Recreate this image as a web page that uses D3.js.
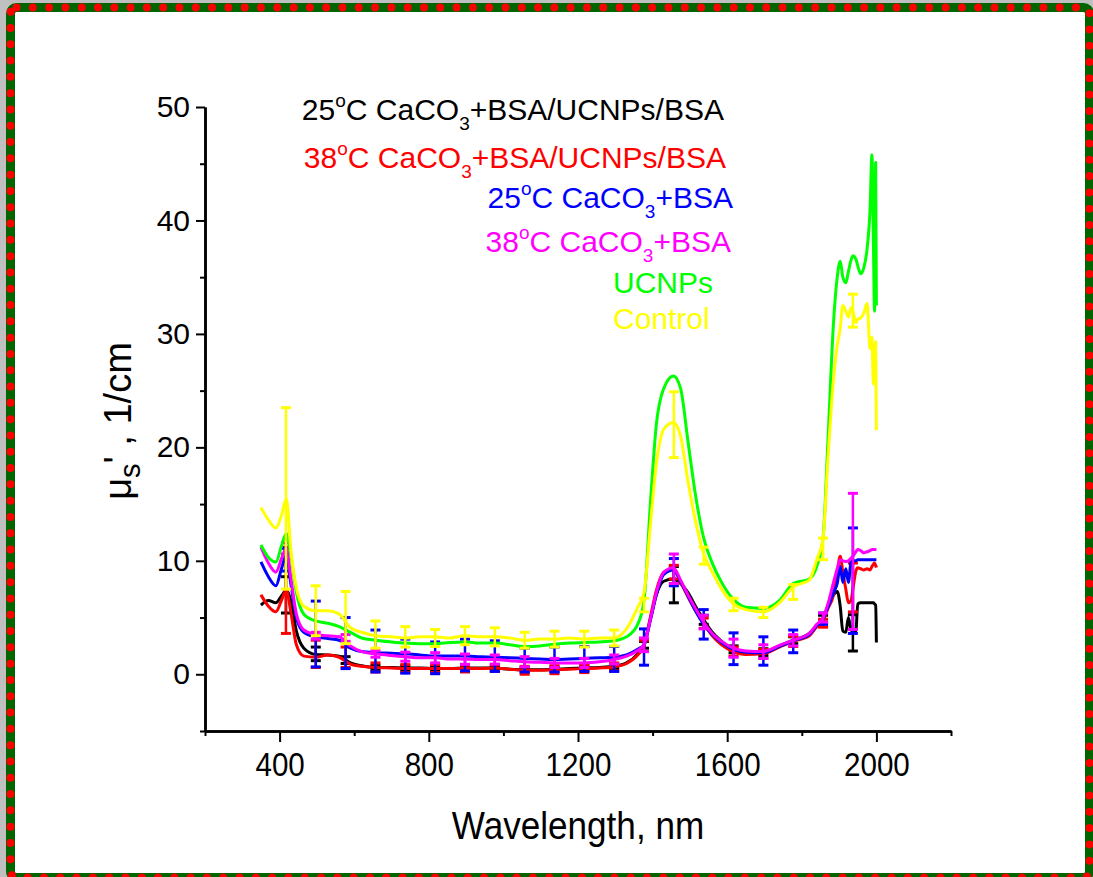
<!DOCTYPE html>
<html>
<head>
<meta charset="utf-8">
<script src="https://cdn.jsdelivr.net/npm/d3@7"></script>
<style>
  body { margin: 0; background: #c0c0c0; }
  svg { display: block; font-family: "Liberation Sans", Arial, sans-serif; }
</style>
</head>
<body>
<svg id="graphe"></svg>
<script>
//------ Données ------
// longueurs d'onde (nm) communes à toutes les courbes
var wl = [350, 370, 390, 405, 418, 430, 445, 465, 497, 530, 560, 590, 620, 657, 700, 737, 777, 817, 857, 897,
  937, 977, 1017, 1057, 1097, 1137, 1177, 1217, 1257, 1297, 1330, 1360, 1377, 1395, 1410, 1430, 1456, 1475, 1495, 1515,
  1537, 1560, 1585, 1617, 1650, 1697, 1740, 1777, 1820, 1840, 1857, 1870, 1885, 1895, 1903, 1910, 1918, 1925, 1932, 1937,
  1945, 1950, 1958, 1966, 1975, 1983, 1988, 1992, 1995, 1998, 2000];

// mu_s' (1/cm) pour chaque échantillon
var black25 = [6.1, 6.5, 6.3, 6.9, 7.4, 6.5, 3.8, 2.3, 1.75, 1.7, 1.6, 1.0, 0.75, 0.6, 0.6, 0.55, 0.55, 0.5, 0.5, 0.55,
  0.55, 0.55, 0.45, 0.4, 0.4, 0.45, 0.5, 0.55, 0.6, 0.7, 1.0, 1.8, 2.6, 5.0, 7.0, 8.2, 8.4, 8.0, 7.2, 6.0,
  4.8, 3.7, 2.9, 2.2, 1.95, 1.95, 2.5, 3.0, 3.6, 4.3, 4.9, 6.0, 7.0, 7.3, 6.0, 3.8, 3.7, 5.0, 3.9, 3.8,
  3.8, 6.2, 6.3, 6.3, 6.3, 6.3, 6.3, 6.3, 6.2, 6.1, 2.8];
var red38 = [7.0, 6.0, 5.5, 6.5, 7.4, 5.5, 2.6, 1.6, 1.5, 1.7, 1.5, 0.9, 0.7, 0.6, 0.55, 0.5, 0.5, 0.5, 0.5, 0.5,
  0.5, 0.55, 0.45, 0.35, 0.35, 0.4, 0.45, 0.5, 0.55, 0.65, 0.95, 1.7, 2.5, 5.2, 7.4, 9.0, 9.3, 8.1, 6.8, 5.6,
  4.5, 3.4, 2.6, 2.0, 1.75, 1.8, 2.4, 2.9, 3.4, 4.2, 4.7, 5.8, 7.0, 9.0, 10.4, 9.0, 7.5, 6.3, 6.5, 7.5,
  9.1, 9.4, 9.3, 9.2, 9.3, 9.2, 9.5, 9.7, 9.8, 9.6, 9.4];
var blue25 = [9.9, 8.6, 7.8, 9.3, 10.5, 8.0, 5.0, 3.7, 3.3, 3.15, 3.0, 2.3, 2.0, 1.9, 1.85, 1.8, 1.7, 1.6, 1.6, 1.6,
  1.55, 1.5, 1.45, 1.4, 1.35, 1.3, 1.35, 1.4, 1.45, 1.5, 1.7, 2.2, 2.6, 4.9, 7.0, 8.8, 9.2, 8.2, 6.9, 5.6,
  4.4, 3.5, 2.8, 2.2, 1.95, 1.9, 2.45, 2.95, 3.5, 4.3, 4.9, 5.9, 7.2, 8.0, 9.5, 8.1, 9.3, 8.1, 9.9, 10.0,
  10.0, 10.1, 10.1, 10.1, 10.1, 10.1, 10.1, 10.1, 10.1, 10.1, 10.1];
var magenta38 = [11.2, 9.8, 9.0, 10.2, 11.1, 8.5, 5.3, 3.9, 3.5, 3.4, 3.3, 2.5, 2.0, 1.8, 1.65, 1.55, 1.45, 1.45, 1.35, 1.33,
  1.3, 1.3, 1.2, 1.1, 1.05, 1.0, 1.0, 1.0, 1.1, 1.3, 1.6, 2.1, 2.6, 5.0, 7.2, 9.0, 9.4, 8.3, 7.0, 5.8,
  4.6, 3.6, 2.9, 2.3, 2.05, 2.0, 2.55, 3.0, 3.6, 4.4, 5.0, 6.2, 8.1, 9.3, 10.1, 10.0, 9.95, 10.0, 10.25, 10.4,
  10.8, 11.0, 10.9, 10.7, 10.8, 10.9, 11.0, 11.0, 11.0, 11.0, 11.0];
var greenUcnp = [11.4, 10.3, 9.9, 11.3, 12.4, 10.5, 7.2, 5.3, 4.7, 4.5, 4.2, 3.7, 3.2, 3.0, 2.85, 2.75, 2.7, 2.7, 2.8, 2.85,
  2.75, 2.75, 2.6, 2.45, 2.5, 2.65, 2.75, 2.8, 2.85, 2.95, 3.3, 4.4, 6.5, 15.5, 22.0, 25.2, 26.3, 25.2, 20.5, 15.8,
  12.0, 9.8, 8.1, 6.6, 5.9, 5.8, 6.5, 8.0, 8.4, 9.5, 12.0, 20.5, 31.0, 35.0, 36.4, 35.0, 34.5, 35.5, 36.5, 36.9,
  36.6, 36.0, 35.3, 35.8, 37.5, 41.0, 45.8, 38.0, 32.0, 45.1, 32.5];
var yellowCtrl = [14.7, 13.6, 12.9, 14.0, 15.5, 11.0, 7.6, 6.0, 5.6, 5.6, 5.3, 4.1, 3.7, 3.4, 3.3, 3.2, 3.3, 3.3, 3.2, 3.4,
  3.3, 3.3, 3.2, 3.0, 3.1, 3.1, 3.2, 3.1, 3.2, 3.2, 4.0, 5.9, 7.2, 13.5, 18.5, 21.6, 22.2, 21.0, 17.0, 13.5,
  10.6, 9.0, 7.5, 6.2, 5.7, 5.5, 6.3, 7.7, 8.3, 10.1, 12.0, 19.0, 26.0, 29.0, 30.5, 32.5, 32.0, 31.5, 32.3, 32.0,
  31.0, 31.3, 31.4, 31.8, 32.7, 28.7, 29.7, 25.6, 28.0, 29.3, 21.5];

// barres d'erreur : positions, centres et demi-largeurs
var errWl = [417, 497, 577, 657, 737, 817, 897, 977, 1057, 1137, 1217, 1297, 1377, 1457, 1537, 1617, 1697, 1777, 1857, 1937];
var blackErrC = [7.0, 1.8, 1.25, 0.6, 0.55, 0.5, 0.55, 0.55, 0.4, 0.45, 0.55, 0.7, 2.6, 7.9, 4.8, 2.2, 1.95, 3.0, 4.9, 3.65];
var blackErr = [1.6, 0.6, 0.3, 0.2, 0.2, 0.2, 0.2, 0.2, 0.2, 0.2, 0.2, 0.2, 0.3, 1.6, 0.4, 0.3, 0.3, 0.3, 0.3, 1.6];
var redErrC = [7.4, 1.8, 1.5, 0.6, 0.5, 0.5, 0.5, 0.55, 0.35, 0.4, 0.5, 0.65, 2.5, 9.0, 4.5, 2.0, 1.8, 2.9, 4.5, 7.65];
var redErr = [3.8, 1.2, 0.9, 0.4, 0.35, 0.35, 0.3, 0.3, 0.35, 0.35, 0.35, 0.35, 0.5, 0.6, 0.45, 0.4, 0.4, 0.45, 0.35, 2.15];
var blueErrC = [10.1, 3.55, 2.75, 2.05, 1.6, 1.45, 1.7, 1.6, 1.25, 1.3, 1.35, 1.35, 2.4, 9.0, 4.4, 2.25, 2.05, 2.9, 4.9, 8.25];
var blueErr = [1.0, 2.9, 2.25, 1.85, 1.5, 1.4, 1.4, 1.35, 1.05, 1.1, 1.1, 1.1, 1.6, 1.2, 1.3, 1.4, 1.25, 1.0, 0.5, 4.65];
var magentaErrC = [11.1, 3.4, 3.2, 1.8, 1.55, 1.45, 1.33, 1.3, 1.1, 1.0, 1.0, 1.3, 2.6, 9.3, 4.6, 2.3, 2.0, 3.0, 5.0, 9.95];
var magentaErr = [0.5, 0.3, 0.3, 0.3, 0.4, 0.45, 0.45, 0.4, 0.45, 0.4, 0.4, 0.4, 0.6, 1.3, 0.6, 0.8, 0.6, 0.5, 0.4, 6.0];
var yellowErrC = [15.5, 5.6, 5.0, 3.5, 3.3, 3.2, 3.4, 3.3, 3.0, 3.1, 3.1, 3.2, 6.1, 22.0, 10.45, 6.15, 5.45, 7.25, 11.05, 32.05];
var yellowErr = [8.0, 2.2, 2.3, 1.2, 0.9, 0.75, 0.8, 0.8, 0.7, 0.7, 0.7, 0.7, 0.6, 2.9, 0.75, 0.55, 0.45, 0.65, 0.95, 1.45];

// ticks
var xMajor = [400, 800, 1200, 1600, 2000];
var xMinor = [200, 600, 1000, 1400, 1800, 2200];
var yMajor = [0, 10, 20, 30, 40, 50];
var yMinor = [-5, 5, 15, 25, 35, 45];

// légende (texte, exposant, suite, indice, fin)
var legendLabels = [
  ["25", "o", "C CaCO", "3", "+BSA/UCNPs/BSA"],
  ["38", "o", "C CaCO", "3", "+BSA/UCNPs/BSA"],
  ["25", "o", "C CaCO", "3", "+BSA"],
  ["38", "o", "C CaCO", "3", "+BSA"],
  ["UCNPs"],
  ["Control"]
];

var series = [
  { color: "#000000", values: black25, errC: blackErrC, err: blackErr },
  { color: "#ff0000", values: red38, errC: redErrC, err: redErr },
  { color: "#0000ff", values: blue25, errC: blueErrC, err: blueErr },
  { color: "#ff00ff", values: magenta38, errC: magentaErrC, err: magentaErr },
  { color: "#00ff00", values: greenUcnp, errC: null, err: null },
  { color: "#ffff00", values: yellowCtrl, errC: yellowErrC, err: yellowErr }
];

//------ Rendre le graphe ------
var width = 1093,
    height = 877;

var svg = d3.select("#graphe")
    .attr("width", width)
    .attr("height", height);

// cadre vert à pois rouges
svg.append("rect")
    .attr("x", 10.5).attr("y", 7.5)
    .attr("width", 1079).attr("height", 870)
    .attr("rx", 6)
    .attr("fill", "#fff")
    .attr("stroke", "#006400")
    .attr("stroke-width", 9);
svg.append("rect")
    .attr("x", 10.5).attr("y", 7.5)
    .attr("width", 1079).attr("height", 870)
    .attr("rx", 6)
    .attr("fill", "none")
    .attr("stroke", "#ff0000")
    .attr("stroke-width", 8)
    .attr("stroke-linecap", "round")
    .attr("stroke-dasharray", "0 16.3");

// échelles
var x = d3.scaleLinear().domain([200, 2200]).range([205, 951]);
var y = d3.scaleLinear().domain([-5, 50]).range([731, 107]);

//-- axes --
var gx = svg.append("g").attr("transform", "translate(0,731)");
gx.call(d3.axisBottom(x).tickValues(xMajor).tickSize(11).tickSizeOuter(0).tickPadding(10).tickFormat(d3.format("d")));
gx.append("g").call(d3.axisBottom(x).tickValues(xMinor).tickSize(5).tickSizeOuter(0).tickFormat(""));
gx.selectAll(".domain").attr("stroke-width", 2.5);
gx.selectAll(".tick line").attr("stroke-width", 2);
// chiffres étroits comme dans l'original
gx.selectAll(".tick text")
    .attr("font-size", 34)
    .attr("transform", "scale(0.87,1)")
    .attr("fill", "#000");

var gy = svg.append("g").attr("transform", "translate(205,0)");
gy.call(d3.axisLeft(y).tickValues(yMajor).tickSize(9).tickSizeOuter(0).tickPadding(6));
gy.append("g").call(d3.axisLeft(y).tickValues(yMinor).tickSize(5).tickSizeOuter(0).tickFormat(""));
gy.selectAll(".domain").attr("stroke-width", 2.5);
gy.selectAll(".tick line").attr("stroke-width", 2);
gy.selectAll(".tick text").attr("font-size", 30).attr("fill", "#000");

// titres des axes
svg.append("text")
    .attr("transform", "translate(578,839) scale(0.9,1)")
    .attr("text-anchor", "middle")
    .attr("font-size", 39)
    .text("Wavelength, nm");

var yt = svg.append("text")
    .attr("transform", "translate(131,421) rotate(-90)")
    .attr("text-anchor", "middle")
    .attr("font-size", 38);
yt.append("tspan").text("\u03bc");
yt.append("tspan").attr("dy", 9).attr("font-size", 29).text("s");
yt.append("tspan").attr("dy", -9).text("' , 1/cm");

//-- courbes et barres d'erreur --
var line = d3.line()
    .x(function (d) { return x(d[0]); })
    .y(function (d) { return y(d[1]); })
    .curve(d3.curveMonotoneX);

series.forEach(function (s) {
    var g = svg.append("g");
    g.append("path")
        .attr("d", line(d3.zip(wl, s.values)))
        .attr("fill", "none")
        .attr("stroke", s.color)
        .attr("stroke-width", 3)
        .attr("stroke-linejoin", "round");

    if (s.err) {
        var bars = g.selectAll("g.err")
            .data(d3.zip(errWl, s.errC, s.err))
            .enter()
            .append("g")
            .attr("class", "err")
            .attr("stroke", s.color);
        bars.append("line")
            .attr("x1", d => x(d[0])).attr("x2", d => x(d[0]))
            .attr("y1", d => y(d[1] - d[2])).attr("y2", d => y(d[1] + d[2]))
            .attr("stroke-width", 2.5);
        bars.append("line")
            .attr("x1", d => x(d[0]) - 5).attr("x2", d => x(d[0]) + 5)
            .attr("y1", d => y(d[1] + d[2])).attr("y2", d => y(d[1] + d[2]))
            .attr("stroke-width", 3);
        bars.append("line")
            .attr("x1", d => x(d[0]) - 5).attr("x2", d => x(d[0]) + 5)
            .attr("y1", d => y(d[1] - d[2])).attr("y2", d => y(d[1] - d[2]))
            .attr("stroke-width", 3);
    }
});

//-- légende --
var legendPos = [
    { x: 724, y: 120, anchor: "end" },
    { x: 726, y: 168, anchor: "end" },
    { x: 733, y: 208, anchor: "end" },
    { x: 731, y: 252, anchor: "end" },
    { x: 613, y: 293, anchor: "start" },
    { x: 613, y: 329, anchor: "start" }
];

legendLabels.forEach(function (parts, i) {
    var t = svg.append("text")
        .attr("x", legendPos[i].x).attr("y", legendPos[i].y)
        .attr("text-anchor", legendPos[i].anchor)
        .attr("font-size", 30)
        .attr("fill", series[i].color);
    if (parts.length == 1) {
        t.text(parts[0]);
        return;
    }
    t.append("tspan").text(parts[0]);
    t.append("tspan").attr("dy", -13).attr("font-size", 19).text(parts[1]);
    t.append("tspan").attr("dy", 13).text(parts[2]);
    t.append("tspan").attr("dy", 10).attr("font-size", 19).text(parts[3]);
    t.append("tspan").attr("dy", -10).text(parts[4]);
});
</script>
</body>
</html>
